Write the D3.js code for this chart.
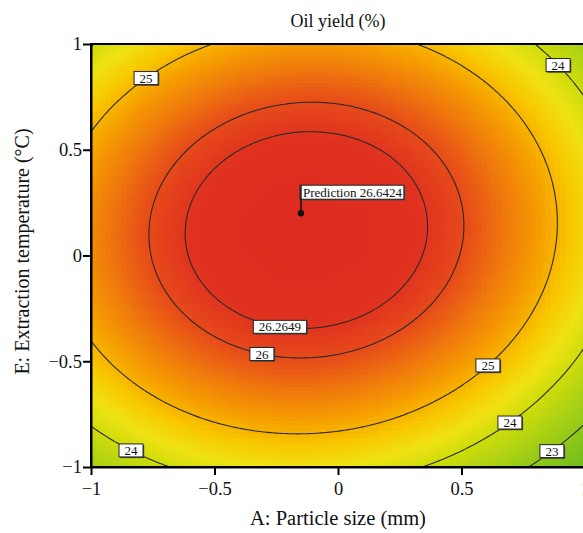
<!DOCTYPE html>
<html>
<head>
<meta charset="utf-8">
<script src="https://cdn.jsdelivr.net/npm/d3@7"></script>
<style>
	body { margin: 0; background: #fff; }
	svg { display: block; }
	svg text { font-family: 'Liberation Serif', 'Times New Roman', 'DejaVu Serif', serif; }
</style>
</head>
<body>
<svg id="chart" width="583" height="533"></svg>
<script>

// quadratic model in coded units:
// yield = b0 + bA*A + bE*E + bAE*A*E + bAA*A^2 + bEE*E^2
const aCoefNames = ['b0', 'A', 'E', 'AE', 'AA', 'EE'];
const aCoefValues = [26.596, -0.424, 0.443, 0.12, -1.6, -1.78];

const aContourLevels = [23, 24, 25, 26, 26.2649];

// contour labels: level, A position, which crossing of the contour
const aLabelLevels = [25, 24, 26.2649, 26, 25, 24, 24, 23];
const aLabelA = [-0.777, 0.891, -0.235, -0.308, 0.607, 0.696, -0.838, 0.866];
const aLabelBranch = ['upper', 'upper', 'lower', 'lower', 'lower', 'lower', 'lower', 'lower'];

const aPredictionPoint = [-0.15, 0.2];	// A, E
const fPredictionValue = 26.6424;

const aTicks = [-1, -0.5, 0, 0.5, 1];

const aColorValues = [22.2, 23.0, 23.6, 24.0, 24.4, 24.8, 25.2, 25.6, 26.0, 26.3, 26.7];
const aColorStops = ['#6cbc1e', '#90c818', '#b4d412', '#cedc0a', '#efe214', '#f8c800', '#f6a000', '#f07a0c', '#e64a1a', '#e0321f', '#de2c20'];

const strFont = "'Liberation Serif', 'Times New Roman', 'DejaVu Serif', serif";


var oCoef = {};
aCoefNames.forEach(function(strName, i)
	{
		oCoef[strName] = aCoefValues[i];
	});

function Yield(fA, fE)
{
	return oCoef.b0 + oCoef.A*fA + oCoef.E*fE + oCoef.AE*fA*fE + oCoef.AA*fA*fA + oCoef.EE*fE*fE;
}

// E where the model crosses fLevel at a given A
function SolveE(fA, fLevel, strBranch)
{
	var qa = oCoef.EE;
	var qb = oCoef.E + oCoef.AE*fA;
	var qc = oCoef.b0 + oCoef.A*fA + oCoef.AA*fA*fA - fLevel;
	var fDisc = Math.sqrt(Math.max(0, qb*qb - 4*qa*qc));
	var e1 = (-qb + fDisc)/(2*qa);
	var e2 = (-qb - fDisc)/(2*qa);
	return (strBranch == 'upper') ? Math.max(e1, e2) : Math.min(e1, e2);
}

var sSvg = d3.select('#chart');

var nBorderLeft = 91;
var nBorderTop = 44;
var nChartWidth = 494;
var nChartHeight = 423;

var scaleX = d3.scaleLinear().domain([-1, 1]).range([0, nChartWidth]);
var scaleY = d3.scaleLinear().domain([-1, 1]).range([nChartHeight, 0]);
var scaleColor = d3.scaleLinear().domain(aColorValues).range(aColorStops).clamp(true);

var sChart = sSvg.append('g')
	.attr('transform', 'translate(' + nBorderLeft + ',' + nBorderTop + ')');

sChart.append('clipPath')
	.attr('id', 'plot-clip')
	.append('rect')
		.attr('width', nChartWidth)
		.attr('height', nChartHeight);

// colour cells
const nCells = 100;
const fStep = 2/nCells;
var aCells = [];
for (var j = 0; j < nCells; j++)
{
	for (var i = 0; i < nCells; i++)
	{
		aCells.push({i: i, j: j});
	}
}

sChart.append('g')
	.attr('clip-path', 'url(#plot-clip)')
	.attr('shape-rendering', 'crispEdges')
	.selectAll('rect')
	.data(aCells)
	.enter()
		.append('rect')
			.attr('x', function(c) { return scaleX(-1 + c.i*fStep); })
			.attr('y', function(c) { return scaleY(-1 + (c.j + 1)*fStep); })
			.attr('width', scaleX(-1 + fStep) - scaleX(-1) + 0.6)
			.attr('height', scaleY(-1) - scaleY(-1 + fStep) + 0.6)
			.attr('fill', function(c)
				{
					return scaleColor(Yield(-1 + (c.i + 0.5)*fStep, -1 + (c.j + 0.5)*fStep));
				});

// contour lines
const nGrid = 241;
var aGrid = new Array(nGrid*nGrid);
for (var j = 0; j < nGrid; j++)
{
	for (var i = 0; i < nGrid; i++)
	{
		aGrid[j*nGrid + i] = Yield(-1 + 2*i/(nGrid - 1), -1 + 2*j/(nGrid - 1));
	}
}

var aContours = d3.contours()
	.size([nGrid, nGrid])
	.thresholds(aContourLevels)(aGrid);

function GridToCoded(g)
{
	return -1 + 2*(g - 0.5)/(nGrid - 1);
}

var projGrid = d3.geoTransform({
	point: function(x, y)
	{
		this.stream.point(scaleX(GridToCoded(x)), scaleY(GridToCoded(y)));
	}
});

sChart.append('g')
	.attr('clip-path', 'url(#plot-clip)')
	.selectAll('path')
	.data(aContours)
	.enter()
		.append('path')
			.attr('d', d3.geoPath(projGrid))
			.attr('fill', 'none')
			.attr('stroke', '#2a2a2a')
			.attr('stroke-width', 1.1);

// contour labels
var aLabels = aLabelLevels.map(function(fLevel, i)
	{
		return {
			level: fLevel,
			a: aLabelA[i],
			e: SolveE(aLabelA[i], fLevel, aLabelBranch[i])
		};
	});

var sLabels = sChart.selectAll('.contour-label')
	.data(aLabels)
	.enter()
		.append('g')
			.attr('class', 'contour-label')
			.attr('transform', function(d)
				{
					return 'translate(' + scaleX(d.a) + ',' + scaleY(d.e) + ')';
				});

sLabels.each(function(d)
	{
		var sG = d3.select(this);
		var sText = sG.append('text')
			.attr('text-anchor', 'middle')
			.attr('dy', '0.35em')
			.attr('font-family', strFont)
			.attr('font-size', 13)
			.attr('fill', '#111')
			.text(String(d.level));
		var nW = sText.node().getComputedTextLength() + 11;
		sG.insert('rect', 'text')
			.attr('x', -nW/2 + 1.2)
			.attr('y', -6.5 + 1.2)
			.attr('width', nW)
			.attr('height', 13)
			.attr('fill', '#444');
		sG.insert('rect', 'text')
			.attr('x', -nW/2)
			.attr('y', -6.5)
			.attr('width', nW)
			.attr('height', 13)
			.attr('fill', '#fff')
			.attr('stroke', '#222')
			.attr('stroke-width', 1);
	});

// prediction flag
var nPX = scaleX(aPredictionPoint[0]);
var nPY = scaleY(aPredictionPoint[1]);
var sPred = sChart.append('g')
	.attr('transform', 'translate(' + nPX + ',' + nPY + ')');

var sPredText = sPred.append('text')
	.attr('x', 2)
	.attr('y', -28 + 7)
	.attr('dy', '0.35em')
	.attr('font-family', strFont)
	.attr('font-size', 13)
	.attr('fill', '#111')
	.text('Prediction ' + fPredictionValue);
var nPredW = sPredText.node().getComputedTextLength() + 5;
sPred.insert('rect', 'text')
	.attr('x', 0.2)
	.attr('y', -28 + 1.2)
	.attr('width', nPredW)
	.attr('height', 14)
	.attr('fill', '#444');
sPred.insert('rect', 'text')
	.attr('x', -1)
	.attr('y', -28)
	.attr('width', nPredW)
	.attr('height', 14)
	.attr('fill', '#fff')
	.attr('stroke', '#222')
	.attr('stroke-width', 1);
sPred.append('line')
	.attr('x1', 0)
	.attr('x2', 0)
	.attr('y1', 0)
	.attr('y2', -28)
	.attr('stroke', '#111')
	.attr('stroke-width', 1.5);
sPred.append('circle')
	.attr('r', 3.2)
	.attr('fill', '#111');

// frame
sChart.append('rect')
	.attr('width', nChartWidth)
	.attr('height', nChartHeight)
	.attr('fill', 'none')
	.attr('stroke', '#000')
	.attr('stroke-width', 2);

// axes
var axisX = d3.axisBottom(scaleX)
	.tickValues(aTicks)
	.tickSize(8)
	.tickSizeOuter(0)
	.tickPadding(7)
	.tickFormat(d3.format(''));

var axisY = d3.axisLeft(scaleY)
	.tickValues(aTicks)
	.tickSize(8)
	.tickSizeOuter(0)
	.tickPadding(1)
	.tickFormat(d3.format(''));

var sAxisX = sChart.append('g')
	.attr('transform', 'translate(0,' + nChartHeight + ')')
	.call(axisX);

var sAxisY = sChart.append('g')
	.call(axisY);

[sAxisX, sAxisY].forEach(function(sAxis)
	{
		sAxis.attr('font-family', strFont).attr('font-size', 18.5);
		sAxis.selectAll('text').attr('font-family', strFont).attr('font-size', 18.5).attr('fill', '#111');
		sAxis.selectAll('line').attr('stroke', '#000').attr('stroke-width', 2);
		sAxis.select('.domain').attr('stroke', '#000').attr('stroke-width', 2);
	});

// titles
sSvg.append('text')
	.attr('x', nBorderLeft + scaleX(0))
	.attr('y', 27)
	.attr('text-anchor', 'middle')
	.attr('font-family', strFont)
	.attr('font-size', 18)
	.attr('fill', '#111')
	.text('Oil yield (%)');

sSvg.append('text')
	.attr('x', nBorderLeft + scaleX(0))
	.attr('y', 525)
	.attr('text-anchor', 'middle')
	.attr('font-family', strFont)
	.attr('font-size', 20.5)
	.attr('fill', '#111')
	.text('A: Particle size (mm)');

sSvg.append('text')
	.attr('transform', 'translate(29,' + (nBorderTop + scaleY(0) - 4) + ') rotate(-90)')
	.attr('text-anchor', 'middle')
	.attr('font-family', strFont)
	.attr('font-size', 20)
	.attr('fill', '#111')
	.text('E: Extraction temperature (°C)');

</script>
</body>
</html>
